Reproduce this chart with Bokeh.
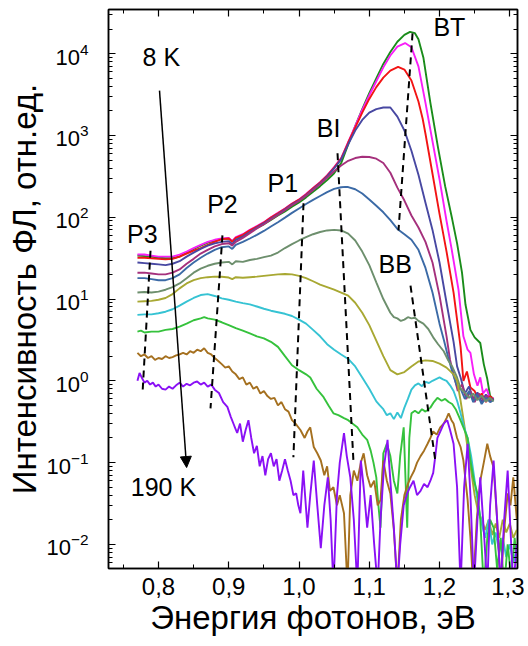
from bokeh.plotting import figure
from bokeh.models import (Range1d, LogAxis, LinearAxis, SingleIntervalTicker, FixedTicker,
                          CustomJSTickFormatter, Arrow, NormalHead)
from bokeh.core.properties import value
from bokeh.embed import file_html
from bokeh.resources import INLINE

# ---------------- data (photon energy eV, PL intensity arb. units) ----------------
s1 = [(0.770,34),(0.780,33.5),(0.790,33),(0.800,32),(0.810,31.5),(0.820,31.5),(0.830,33),(0.840,37),(0.850,41),(0.860,45),(0.870,49),(0.880,52),(0.890,54),(0.900,55),(0.905,51),(0.910,56),(0.920,60),(0.930,67),(0.940,74),(0.950,82),(0.960,93),(0.970,105),(0.980,118),(0.990,135),(1.000,152),(1.010,175),(1.020,205),(1.030,240),(1.040,285),(1.050,345),(1.060,460),(1.070,780),(1.080,1300),(1.090,2100),(1.100,3300),(1.110,5000),(1.120,7500),(1.130,10500),(1.140,14000),(1.150,17000),(1.158,18500),(1.165,17800),(1.170,15000),(1.177,9000),(1.187,2500),(1.198,700),(1.208,240),(1.218,95),(1.225,48),(1.232,21),(1.237,8.5),(1.244,4.2),(1.250,3.4),(1.258,2.9),(1.263,1.6),(1.268,1.05),(1.272,0.65),(1.277,0.6)]
s2 = [(0.770,35),(0.780,35),(0.790,34),(0.800,33),(0.810,33),(0.820,33),(0.830,35),(0.840,38),(0.850,42),(0.860,46),(0.870,50),(0.880,53),(0.890,55),(0.900,56),(0.905,51),(0.910,57),(0.920,62),(0.930,70),(0.940,78),(0.950,87),(0.960,100),(0.970,113),(0.980,128),(0.990,147),(1.000,165),(1.010,192),(1.020,228),(1.030,268),(1.040,325),(1.050,410),(1.060,530),(1.070,830),(1.080,1300),(1.090,2050),(1.100,3100),(1.110,4600),(1.120,6800),(1.130,9500),(1.140,12200),(1.151,13500),(1.160,12000),(1.170,7000),(1.180,2500),(1.190,850),(1.200,290),(1.210,90),(1.217,42),(1.227,13),(1.234,3.5),(1.240,2.4),(1.244,2.2),(1.249,1.2),(1.254,0.87),(1.258,1.1),(1.262,0.7),(1.267,0.8),(1.272,0.6),(1.277,0.62)]
s3 = [(0.770,32),(0.780,32),(0.790,31.5),(0.800,31),(0.810,30.5),(0.820,31),(0.830,33),(0.840,36),(0.850,39),(0.860,42),(0.870,46),(0.880,50),(0.890,54),(0.900,55),(0.905,50),(0.910,56),(0.920,61),(0.930,69),(0.940,77),(0.950,86),(0.960,99),(0.970,112),(0.980,127),(0.990,146),(1.000,164),(1.010,190),(1.020,226),(1.030,266),(1.040,322),(1.050,405),(1.060,520),(1.070,820),(1.080,1250),(1.090,1900),(1.100,2800),(1.110,3900),(1.120,5100),(1.130,6200),(1.141,6900),(1.150,6400),(1.160,4700),(1.170,2600),(1.176,1600),(1.180,1050),(1.190,340),(1.200,110),(1.210,38),(1.220,12),(1.230,2.6),(1.234,1.0),(1.239,1.3),(1.244,0.83),(1.250,0.75),(1.255,0.6),(1.260,0.7),(1.266,0.55),(1.272,0.65),(1.277,0.58)]
s4 = [(0.770,28),(0.780,27.5),(0.790,27),(0.800,26.5),(0.810,26),(0.820,27),(0.830,29),(0.840,33),(0.850,37),(0.860,41),(0.870,45),(0.880,48),(0.890,50),(0.900,51),(0.905,47),(0.910,53),(0.920,58),(0.930,66),(0.940,75),(0.950,84),(0.960,96),(0.970,109),(0.980,124),(0.990,143),(1.000,160),(1.010,186),(1.020,220),(1.030,260),(1.040,315),(1.050,395),(1.060,510),(1.070,780),(1.080,1150),(1.090,1550),(1.100,1900),(1.110,2100),(1.120,2200),(1.130,2200),(1.140,1700),(1.150,1150),(1.160,650),(1.170,330),(1.180,150),(1.190,70),(1.200,28),(1.210,9),(1.220,3),(1.225,1.5),(1.230,1.1),(1.236,0.7),(1.242,0.85),(1.248,0.6),(1.254,0.72),(1.260,0.55),(1.266,0.68),(1.272,0.57),(1.277,0.6)]
s5 = [(0.770,21),(0.780,21),(0.790,20.5),(0.800,20),(0.810,20),(0.820,21),(0.830,23),(0.840,27),(0.850,31),(0.860,36),(0.870,40),(0.880,44),(0.890,47),(0.900,48),(0.905,45),(0.910,50),(0.920,56),(0.930,64),(0.940,73),(0.950,82),(0.960,94),(0.970,107),(0.980,122),(0.990,140),(1.000,158),(1.010,183),(1.020,215),(1.030,255),(1.040,305),(1.050,365),(1.060,430),(1.070,490),(1.080,530),(1.090,550),(1.100,545),(1.110,520),(1.120,460),(1.130,350),(1.140,230),(1.150,160),(1.160,105),(1.170,75),(1.180,50),(1.190,28),(1.200,11),(1.210,3.5),(1.215,1.8),(1.220,1.2),(1.226,0.75),(1.232,0.9),(1.238,0.6),(1.244,0.75),(1.250,0.55),(1.256,0.7),(1.262,0.58),(1.268,0.66),(1.274,0.55)]
s6 = [(0.770,18),(0.780,18),(0.790,17.5),(0.800,17),(0.810,17),(0.820,18),(0.830,20),(0.840,24),(0.850,28),(0.860,32),(0.870,36),(0.880,40),(0.890,43),(0.900,44),(0.905,41),(0.910,46),(0.920,50),(0.930,55),(0.940,61),(0.950,68),(0.960,77),(0.970,87),(0.980,99),(0.990,113),(1.000,128),(1.010,145),(1.020,163),(1.030,182),(1.040,203),(1.050,222),(1.060,233),(1.066,235),(1.070,234),(1.080,220),(1.090,195),(1.100,165),(1.110,138),(1.120,115),(1.130,92),(1.140,72),(1.150,62),(1.160,53),(1.170,40),(1.180,24),(1.190,12),(1.200,5),(1.206,3.2),(1.212,2.0),(1.218,1.3),(1.224,0.9),(1.230,0.8),(1.236,0.6),(1.242,0.75),(1.248,0.55),(1.254,0.68),(1.260,0.52),(1.266,0.62),(1.272,0.55),(1.277,0.58)]
s7 = [(0.770,12),(0.780,12.2),(0.790,12),(0.800,12.3),(0.810,13),(0.820,14),(0.830,15.5),(0.840,18),(0.850,21),(0.860,23.5),(0.870,25.5),(0.880,27),(0.890,28),(0.900,28.5),(0.905,26.5),(0.910,29),(0.920,28.5),(0.930,30),(0.940,31),(0.950,32.5),(0.960,34),(0.970,37),(0.980,42),(0.990,47),(1.000,52),(1.010,57),(1.020,62),(1.030,66),(1.040,69),(1.050,70),(1.060,69),(1.070,63),(1.080,52),(1.090,38),(1.100,26),(1.110,16),(1.120,10),(1.130,6.8),(1.135,6.0),(1.140,5.8),(1.145,5.4),(1.150,5.6),(1.155,6.0),(1.160,5.8),(1.165,5.9),(1.170,5.4),(1.177,5.0),(1.184,4.3),(1.191,3.4),(1.198,2.8),(1.206,2.3),(1.212,1.8),(1.218,1.5),(1.225,1.1),(1.230,0.8),(1.236,0.72),(1.242,0.62),(1.248,0.7),(1.254,0.58),(1.260,0.66),(1.266,0.56),(1.272,0.62),(1.277,0.56)]
s8 = [(0.770,9.3),(0.780,9.4),(0.790,9.5),(0.800,9.8),(0.810,10.3),(0.820,11.5),(0.830,13.5),(0.840,15.5),(0.850,17),(0.860,18),(0.870,18.5),(0.880,18.8),(0.890,18.7),(0.900,18.3),(0.905,17.5),(0.910,18.5),(0.920,18.2),(0.930,18.5),(0.940,18.8),(0.950,19.2),(0.960,19.6),(0.970,20),(0.980,20.2),(0.990,20),(1.000,19.2),(1.010,18),(1.020,16.5),(1.030,15),(1.040,14),(1.050,13),(1.060,12),(1.070,11),(1.080,9),(1.090,6.8),(1.100,4.8),(1.110,3.1),(1.120,2.0),(1.130,1.35),(1.140,1.2),(1.150,1.28),(1.160,1.5),(1.170,1.72),(1.180,1.78),(1.190,1.75),(1.200,1.62),(1.210,1.45),(1.220,1.2),(1.225,1.0),(1.230,0.57),(1.235,0.3),(1.240,0.15),(1.245,0.08),(1.250,0.04),(1.255,0.025),(1.260,0.02),(1.265,0.015),(1.270,0.02),(1.275,0.013),(1.280,0.018),(1.285,0.012),(1.290,0.02),(1.295,0.014),(1.300,0.018),(1.305,0.012),(1.310,0.015)]
s9 = [(0.770,6.4),(0.780,6.5),(0.790,6.5),(0.800,6.7),(0.810,7.0),(0.820,7.5),(0.830,8.3),(0.840,9.3),(0.850,10.3),(0.860,11.2),(0.870,11.5),(0.880,10.9),(0.890,10.2),(0.900,9.8),(0.910,9.3),(0.920,8.9),(0.930,8.6),(0.940,8.1),(0.950,7.6),(0.960,7.2),(0.970,6.9),(0.980,6.6),(0.990,6.2),(1.000,5.6),(1.010,5.0),(1.020,4.2),(1.030,3.5),(1.040,2.8),(1.050,2.4),(1.060,2.1),(1.070,1.85),(1.080,1.5),(1.090,1.1),(1.100,0.8),(1.110,0.56),(1.115,0.5),(1.120,0.45),(1.125,0.38),(1.130,0.4),(1.135,0.34),(1.140,0.41),(1.145,0.35),(1.150,0.47),(1.155,0.6),(1.160,0.78),(1.165,0.88),(1.170,0.93),(1.175,0.86),(1.180,0.97),(1.185,0.94),(1.190,1.0),(1.195,1.05),(1.200,1.1),(1.205,1.04),(1.210,1.0),(1.215,0.88),(1.220,0.75),(1.225,0.57),(1.230,0.4),(1.235,0.27),(1.240,0.2),(1.245,0.12),(1.250,0.06),(1.255,0.03),(1.260,0.018),(1.265,0.012),(1.270,0.02),(1.275,0.01),(1.280,0.014),(1.285,0.008),(1.290,0.012),(1.295,0.007),(1.300,0.01),(1.305,0.006),(1.310,0.009)]
s10 = [(0.770,4.0),(0.775,4.1),(0.780,3.9),(0.790,4.0),(0.800,4.0),(0.810,4.2),(0.820,4.3),(0.830,4.6),(0.840,5.0),(0.850,5.5),(0.860,5.8),(0.865,6.0),(0.870,5.8),(0.880,5.6),(0.890,5.2),(0.900,4.8),(0.910,4.4),(0.920,4.1),(0.930,3.8),(0.940,3.5),(0.950,3.3),(0.960,3.0),(0.970,2.6),(0.980,2.0),(0.990,1.55),(1.000,1.35),(1.010,1.2),(1.016,1.1),(1.025,0.8),(1.035,0.63),(1.042,0.5),(1.049,0.4),(1.056,0.38),(1.064,0.35),(1.070,0.33),(1.076,0.3),(1.083,0.27),(1.090,0.22),(1.097,0.19),(1.102,0.14),(1.106,0.1),(1.110,0.066),(1.113,0.03),(1.116,0.016),(1.120,0.13),(1.125,0.17),(1.130,0.12),(1.135,0.06),(1.140,0.042),(1.144,0.12),(1.149,0.27),(1.152,0.05),(1.154,0.016),(1.157,0.2),(1.160,0.4),(1.165,0.43),(1.170,0.4),(1.175,0.45),(1.180,0.42),(1.187,0.47),(1.192,0.55),(1.197,0.62),(1.203,0.57),(1.208,0.6),(1.213,0.55),(1.218,0.52),(1.223,0.45),(1.228,0.36),(1.234,0.27),(1.240,0.2),(1.244,0.106),(1.249,0.06),(1.254,0.042),(1.258,0.02),(1.263,0.003),(1.268,0.012),(1.272,0.02),(1.277,0.016),(1.282,0.005),(1.287,0.012),(1.292,0.003),(1.297,0.01),(1.302,0.004),(1.307,0.012),(1.310,0.006)]
s11 = [(0.770,2.2),(0.775,2.0),(0.780,2.1),(0.785,1.9),(0.790,2.0),(0.795,1.8),(0.800,1.9),(0.805,1.85),(0.810,2.0),(0.815,1.9),(0.820,1.95),(0.825,2.05),(0.830,2.1),(0.835,2.2),(0.840,2.1),(0.845,2.3),(0.850,2.2),(0.855,2.4),(0.860,2.3),(0.865,2.5),(0.870,2.2),(0.875,2.1),(0.880,1.9),(0.885,1.75),(0.890,1.6),(0.895,1.45),(0.900,1.5),(0.905,1.3),(0.910,1.2),(0.915,1.05),(0.920,1.1),(0.925,0.9),(0.930,0.95),(0.935,0.8),(0.940,0.85),(0.945,0.7),(0.950,0.75),(0.955,0.65),(0.960,0.6),(0.965,0.62),(0.970,0.5),(0.975,0.55),(0.980,0.45),(0.985,0.42),(0.990,0.33),(0.995,0.3),(1.002,0.25),(1.008,0.2),(1.012,0.24),(1.016,0.27),(1.021,0.155),(1.026,0.13),(1.031,0.106),(1.036,0.07),(1.040,0.09),(1.044,0.045),(1.049,0.05),(1.054,0.03),(1.058,0.04),(1.064,0.024),(1.069,0.003),(1.073,0.04),(1.078,0.08),(1.083,0.06),(1.088,0.1),(1.092,0.13),(1.097,0.07),(1.102,0.05),(1.107,0.06),(1.112,0.03),(1.116,0.035),(1.120,0.106),(1.125,0.06),(1.130,0.042),(1.135,0.015),(1.140,0.003),(1.145,0.02),(1.150,0.04),(1.155,0.055),(1.159,0.066),(1.164,0.08),(1.168,0.1),(1.173,0.12),(1.178,0.14),(1.183,0.17),(1.187,0.2),(1.191,0.24),(1.196,0.22),(1.201,0.27),(1.206,0.3),(1.210,0.35),(1.213,0.4),(1.217,0.33),(1.220,0.3),(1.225,0.2),(1.230,0.155),(1.234,0.106),(1.240,0.035),(1.244,0.012),(1.248,0.003),(1.253,0.02),(1.258,0.06),(1.263,0.1),(1.268,0.17),(1.272,0.12),(1.277,0.087),(1.282,0.02),(1.287,0.003),(1.292,0.015),(1.297,0.042),(1.301,0.03),(1.305,0.066),(1.310,0.02)]
s12 = [(0.770,1.0),(0.773,1.25),(0.776,1.1),(0.780,0.95),(0.784,1.0),(0.788,0.9),(0.792,0.95),(0.796,0.85),(0.800,0.9),(0.805,0.8),(0.810,0.78),(0.815,0.85),(0.820,0.8),(0.825,0.88),(0.830,0.95),(0.835,0.85),(0.840,0.92),(0.845,0.88),(0.850,0.95),(0.855,0.98),(0.860,0.9),(0.865,0.95),(0.870,0.85),(0.875,0.9),(0.880,0.78),(0.886,0.71),(0.892,0.55),(0.898,0.48),(0.903,0.36),(0.908,0.28),(0.912,0.23),(0.916,0.3),(0.920,0.18),(0.924,0.25),(0.928,0.33),(0.932,0.2),(0.936,0.13),(0.940,0.16),(0.944,0.09),(0.948,0.12),(0.952,0.07),(0.956,0.11),(0.960,0.13),(0.964,0.09),(0.968,0.11),(0.972,0.06),(0.976,0.08),(0.980,0.11),(0.984,0.08),(0.988,0.06),(0.992,0.04),(0.996,0.042),(0.999,0.03),(1.002,0.024),(1.006,0.08),(1.012,0.016),(1.016,0.04),(1.021,0.106),(1.026,0.03),(1.031,0.009),(1.036,0.03),(1.041,0.066),(1.045,0.02),(1.049,0.003),(1.054,0.04),(1.058,0.1),(1.064,0.23),(1.068,0.12),(1.073,0.066),(1.078,0.02),(1.083,0.003),(1.088,0.106),(1.092,0.05),(1.097,0.016),(1.102,0.04),(1.107,0.01),(1.112,0.003),(1.116,0.02),(1.121,0.09),(1.126,0.19),(1.130,0.06),(1.135,0.016),(1.140,0.003),(1.144,0.01),(1.149,0.03),(1.154,0.042),(1.158,0.05),(1.163,0.06),(1.168,0.04),(1.173,0.045),(1.178,0.055),(1.183,0.05),(1.187,0.06),(1.191,0.075),(1.194,0.12),(1.197,0.2),(1.202,0.25),(1.206,0.3),(1.211,0.33),(1.215,0.25),(1.220,0.17),(1.225,0.05),(1.230,0.003),(1.235,0.05),(1.240,0.17),(1.244,0.04),(1.249,0.003),(1.254,0.02),(1.258,0.066),(1.263,0.015),(1.268,0.003),(1.272,0.03),(1.277,0.106),(1.282,0.02),(1.287,0.003),(1.292,0.02),(1.297,0.08),(1.301,0.015),(1.305,0.003),(1.310,0.01)]

series = [s1, s2, s3, s4, s5, s6, s7, s8, s9, s10, s11, s12]
series_colors = ["#1a8c1a", "#f81ef8", "#f21414", "#4848a2", "#a5307c", "#3b6aa6",
                 "#6d8f6d", "#a8a832", "#36c3d3", "#35c23c", "#a5701f", "#8a10f5"]

# dashed guide lines (peak positions): [E_top, E_bottom], [I_top, I_bottom]
guide_names = ["P3", "P2", "P1", "BI", "BT", "BB"]
guide_E = [(0.7886, 0.7772), (0.891, 0.874), (1.0064, 0.992), (1.0548, 1.0776), (1.1616, 1.1416), (1.1587, 1.194)]
guide_I = [(39, 0.70), (60, 0.46), (148, 0.116), (605, 0.098), (17700, 69), (14.6, 0.106)]

# text labels
label_text = ["8 K", "190 K", "P3", "P2", "P1", "BI", "BT", "BB"]
label_E = [0.804, 0.807, 0.777, 0.891, 0.977, 1.042, 1.214, 1.137]
label_I = [9230, 0.05, 63, 147, 265, 1250, 21400, 27]

# temperature arrow (8 K -> 190 K)
arrow_E = [0.8014, 0.840]
arrow_I = [3540, 0.087]

x_major = 0.1
y_decades = [1e-2, 1e-1, 1e0, 1e1, 1e2, 1e3, 1e4]
y_minor = [m * d for d in [1e-3, 1e-2, 1e-1, 1e0, 1e1, 1e2, 1e3, 1e4] for m in range(2, 10)]

FONT = "Liberation Sans"

p = figure(width=524, height=646, y_axis_type="log",
           x_range=Range1d(0.7288, 1.311), y_range=Range1d(0.00507, 34700),
           output_backend="svg", toolbar_location=None,
           min_border_left=108, min_border_right=7, min_border_top=9, min_border_bottom=78)
p.background_fill_color = "white"
p.border_fill_color = "white"
p.outline_line_color = "black"
p.outline_line_width = 1.5
p.xgrid.visible = False
p.ygrid.visible = False

for pts, col in zip(series, series_colors):
    xs = [a for a, b in pts]
    ys = [b for a, b in pts]
    p.line(xs, ys, line_color=col, line_width=1.9)

for ge, gi in zip(guide_E, guide_I):
    p.line(list(ge), list(gi), line_color="black", line_width=2, line_dash="7 5")

p.add_layout(Arrow(end=NormalHead(size=11, fill_color="black", line_color="black"),
                   x_start=arrow_E[0], y_start=arrow_I[0], x_end=arrow_E[1], y_end=arrow_I[1],
                   line_width=1.5, line_color="black"))

p.text(x=label_E, y=label_I, text=label_text, text_font=value(FONT), text_font_size="25px",
       text_align="center", text_baseline="middle", text_color="black")

xt = SingleIntervalTicker(interval=x_major, num_minor_ticks=2)
yt = FixedTicker(ticks=y_decades, minor_ticks=y_minor)

def style(ax):
    ax.axis_line_color = "black"
    ax.axis_line_width = 1.5
    ax.major_tick_in = 7
    ax.major_tick_out = 0
    ax.minor_tick_in = 4
    ax.minor_tick_out = 0
    ax.major_tick_line_color = "black"
    ax.minor_tick_line_color = "black"
    ax.major_tick_line_width = 1.2
    ax.minor_tick_line_width = 1

xa = p.xaxis[0]
xa.ticker = xt
xa.formatter = CustomJSTickFormatter(code="return tick.toFixed(1).replace('.', ',');")
xa.major_label_text_font = FONT
xa.major_label_text_font_size = "24px"
xa.major_label_text_color = "black"
xa.major_label_standoff = 9
xa.axis_label = "Энергия фотонов, эВ"
xa.axis_label_text_font = FONT
xa.axis_label_text_font_size = "33px"
xa.axis_label_text_font_style = "normal"
xa.axis_label_text_color = "black"
xa.axis_label_standoff = 1
style(xa)

ya = p.yaxis[0]
ya.ticker = yt
ya.major_label_text_font = FONT
ya.major_label_text_font_size = "22px"
ya.major_label_text_color = "black"
ya.major_label_standoff = 20
ya.axis_label = "Интенсивность ФЛ, отн.ед."
ya.axis_label_text_font = FONT
ya.axis_label_text_font_size = "33px"
ya.axis_label_text_font_style = "normal"
ya.axis_label_text_color = "black"
ya.axis_label_standoff = 0
style(ya)

top = LinearAxis(ticker=xt, major_label_text_color=None, major_label_standoff=0)
style(top)
p.add_layout(top, "above")
right = LogAxis(ticker=yt, major_label_text_color=None, major_label_standoff=0)
style(right)
p.add_layout(right, "right")

open("out.html", "w").write(file_html(p, INLINE))
